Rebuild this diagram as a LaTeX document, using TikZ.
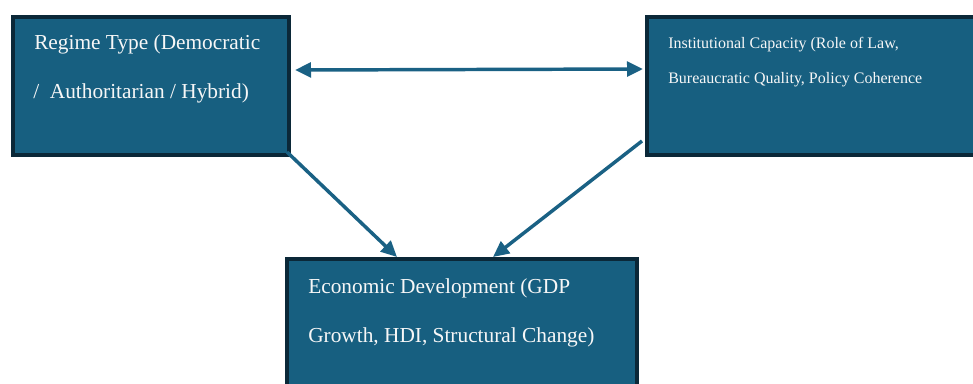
\documentclass[tikz,border=0pt]{standalone}
\usepackage{fontspec}
\setmainfont{Liberation Serif}
\usetikzlibrary{positioning,arrows.meta,calc}
\definecolor{boxblue}{HTML}{175F80}
\definecolor{boxedge}{HTML}{0B2838}
\definecolor{linkblue}{HTML}{1A6184}
\tikzset{
 box/.style={draw=boxedge,fill=boxblue,line width=3pt,inner sep=0pt,outer sep=0pt,anchor=north west},
 txt/.style={text=white!94!gray,inner sep=0pt,font=\fontsize{16}{18}\selectfont},
 smalltxt/.style={txt,font=\fontsize{12}{14}\selectfont},
 link/.style={draw=linkblue,line width=2.6pt,-{Triangle[length=12pt,width=11pt]}}
}
\begin{document}
\begin{tikzpicture}[x=0.75pt,y=-0.75pt]
 \useasboundingbox (0,0) rectangle (973,383);
 \node [box,minimum width=207pt,minimum height=103.5pt] (regime) at (13,17) {};
 \node [box,minimum width=253.5pt,minimum height=103.5pt] (capacity) at (647,17) {};
 \node [box,minimum width=262.5pt,minimum height=105.75pt] (econ) at (287,259) {};
 \node [txt,below right=24pt and 15.75pt of regime.north west,anchor=base west] (regime1) {Regime Type (Democratic};
 \node [txt,below right=60.75pt and 15pt of regime.north west,anchor=base west] (regime2) {/\ \ Authoritarian / Hybrid)};
 \node [smalltxt,below right=23.25pt and 15.75pt of capacity.north west,anchor=base west] (capacity1) {Institutional Capacity (Role of Law,};
 \node [smalltxt,below right=49.5pt and 15.75pt of capacity.north west,anchor=base west] (capacity2) {Bureaucratic Quality, Policy Coherence};
 \node [txt,below right=25.5pt and 15.75pt of econ.north west,anchor=base west] (econ1) {Economic Development (GDP};
 \node [txt,below right=62.25pt and 15.75pt of econ.north west,anchor=base west] (econ2) {Growth, HDI, Structural Change)};
 \draw [link,{Triangle[length=12pt,width=11pt]}-{Triangle[length=12pt,width=11pt]}]
  ($(regime.east)+(6,-16)$) -- ($(capacity.west)+(-4,-17)$);
 \draw [link] ($(regime.south east)+(-2,-3)$) -- ($(econ.north west)+(110,-2)$);
 \draw [link] ($(capacity.south west)+(-5,-14)$) -- ($(econ.north west)+(206,-2)$);
\end{tikzpicture}
\end{document}
